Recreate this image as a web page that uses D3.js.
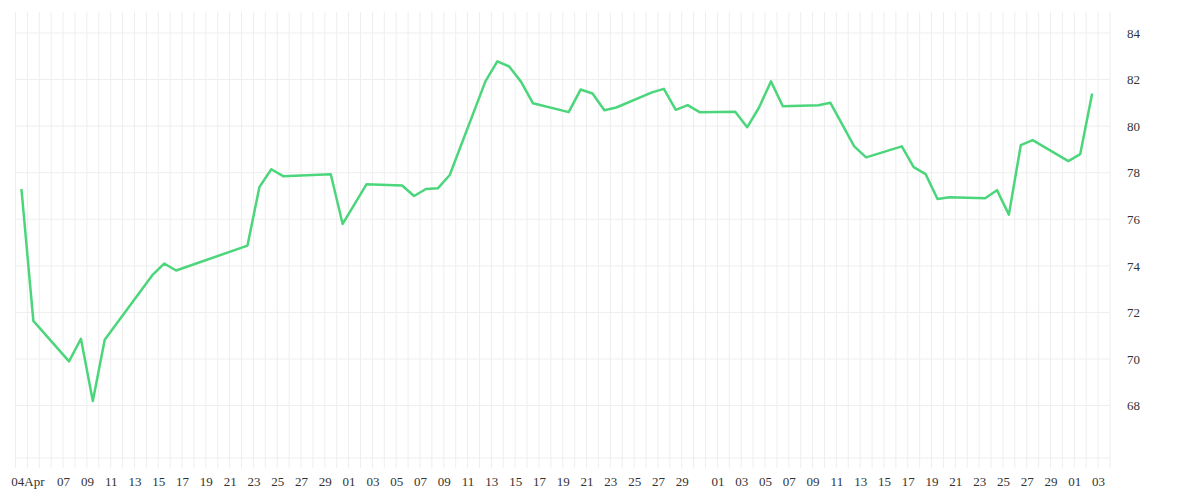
<!DOCTYPE html>
<html>
<head>
<meta charset="utf-8">
<script src="https://cdn.jsdelivr.net/npm/d3@7"></script>
<style>
  body { margin: 0; background: #fff; }
  .tick text { font-family: "Liberation Serif", "DejaVu Serif", serif; font-size: 13px; fill: #333; }
</style>
</head>
<body>
<div id="chart"></div>
<script>
// Observation dates and values
const dates = [
  "2023-04-03","2023-04-04","2023-04-07","2023-04-08","2023-04-09","2023-04-10",
  "2023-04-14","2023-04-15","2023-04-16","2023-04-22","2023-04-23","2023-04-24",
  "2023-04-25","2023-04-29","2023-04-30","2023-05-02","2023-05-05","2023-05-06",
  "2023-05-07","2023-05-08","2023-05-09","2023-05-12","2023-05-13","2023-05-14",
  "2023-05-15","2023-05-16","2023-05-19","2023-05-20","2023-05-21","2023-05-22",
  "2023-05-23","2023-05-26","2023-05-27","2023-05-28","2023-05-29","2023-05-30",
  "2023-06-02","2023-06-03","2023-06-04","2023-06-05","2023-06-06","2023-06-09",
  "2023-06-10","2023-06-12","2023-06-13","2023-06-16","2023-06-17","2023-06-18",
  "2023-06-19","2023-06-20","2023-06-23","2023-06-24","2023-06-25","2023-06-26",
  "2023-06-27","2023-06-30","2023-07-01","2023-07-02"
];
const values = [
  77.3, 71.64, 69.9, 70.87, 68.2, 70.83,
  73.6, 74.1, 73.8, 74.87, 77.38, 78.15,
  77.85, 77.93, 75.8, 77.5, 77.45, 77.0,
  77.3, 77.33, 77.9, 81.92, 82.78, 82.56,
  81.9, 80.98, 80.6, 81.57, 81.4, 80.68,
  80.8, 81.45, 81.6, 80.7, 80.9, 80.6,
  80.62, 79.95, 80.8, 81.92, 80.85, 80.9,
  81.0, 79.13, 78.66, 79.13, 78.24, 77.94,
  76.87, 76.95, 76.9, 77.25, 76.2, 79.18,
  79.4, 78.5, 78.8, 81.4
];
const yTicks = [68, 70, 72, 74, 76, 78, 80, 82, 84];
const xDomain = ["2023-04-03", "2023-07-04"];
const yDomain = [65.75, 84.9];

const width = 1200, height = 500;
const parse = d3.timeParse("%Y-%m-%d");
const data = dates.map((d, i) => ({ date: d3.timeHour.offset(parse(d), 12), value: values[i] }));

const x = d3.scaleTime().domain(xDomain.map(parse)).range([15.5, 1110]);
const y = d3.scaleLinear().domain(yDomain).range([458, 12]);

const svg = d3.select("#chart").append("svg")
  .attr("width", width).attr("height", height);

// vertical grid, one line per day
const days = d3.timeDay.range(parse(xDomain[0]), d3.timeDay.offset(parse(xDomain[1]), 1));
svg.append("g").selectAll("line").data(days).join("line")
  .attr("x1", d => x(d)).attr("x2", d => x(d))
  .attr("y1", 12).attr("y2", 468)
  .attr("stroke", "#eeeeee").attr("stroke-width", 1);

// horizontal grid
svg.append("g").selectAll("line").data(yTicks.concat([yDomain[0]])).join("line")
  .attr("x1", 15.5).attr("x2", 1110)
  .attr("y1", d => y(d)).attr("y2", d => y(d))
  .attr("stroke", "#eeeeee").attr("stroke-width", 1);

// x axis labels: Apr 4, then odd days except the 31st
const labelDays = days.filter(d => {
  const dd = d.getDate();
  if (d.getMonth() === 3 && dd < 7) return dd === 4;
  return dd % 2 === 1 && dd !== 31;
});
const xAxis = d3.axisBottom(x).tickValues(labelDays).tickSize(0).tickPadding(0)
  .tickFormat(d => (d.getMonth() === 3 && d.getDate() === 4) ? "04Apr" : d3.timeFormat("%d")(d));
svg.append("g").attr("transform", "translate(0,477)").call(xAxis)
  .call(g => g.select(".domain").remove())
  .call(g => g.selectAll("text").attr("dy", "0.7em"));

// y axis on the right
const yAxis = d3.axisRight(y).tickValues(yTicks).tickSize(0).tickPadding(0);
svg.append("g").attr("transform", "translate(1127,0)").call(yAxis)
  .call(g => g.select(".domain").remove());

const line = d3.line().x(d => x(d.date)).y(d => y(d.value));
svg.append("path").datum(data)
  .attr("d", line)
  .attr("fill", "none")
  .attr("stroke", "#4cd67c")
  .attr("stroke-width", 2.5)
  .attr("stroke-linejoin", "round");
</script>
</body>
</html>
